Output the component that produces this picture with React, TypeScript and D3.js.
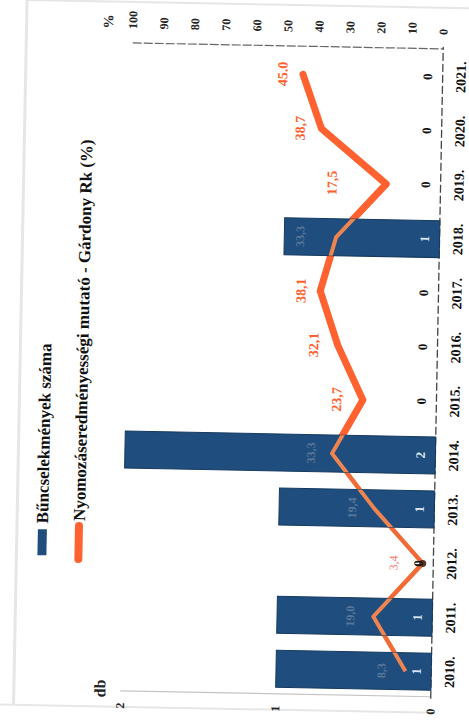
import React from 'react';
import * as d3 from 'd3';

const years = ['2010.', '2011.', '2012.', '2013.', '2014.', '2015.', '2016.', '2017.', '2018.', '2019.', '2020.', '2021.'];
const crimes = [1, 1, 0, 1, 2, 0, 0, 0, 1, 0, 0, 0];
const rate = [8.3, 19.0, 3.4, 19.4, 33.3, 23.7, 32.1, 38.1, 33.3, 17.5, 38.7, 45.0];
const rateLabels = ['8,3', '19,0', '3,4', '19,4', '33,3', '23,7', '32,1', '38,1', '33,3', '17,5', '38,7', '45.0'];
const pctTicks = [0, 10, 20, 30, 40, 50, 60, 70, 80, 90, 100];
const dbTicks = [0, 1, 2];
const legendBars = 'Bűncselekmények száma';
const legendLine = 'Nyomozáseredményességi mutató - Gárdony Rk (%)';

const W = 469;
const H = 724;
const FONT = '"Liberation Serif", "Times New Roman", serif';

// distance of each data label above its point (layout only)
const labelGap = [24, 23, 29, 22, 21, 26, 24, 19, 36, 54, 21, 20];

export default function App() {
  // chart drawn in its original (landscape) orientation: u = horizontal (0..724), v = vertical (0..469)
  const x = d3.scaleBand<string>().domain(years).range([28, 677]).paddingInner(0.316).paddingOuter(0.158);
  const yPct = d3.scaleLinear().domain([0, 100]).range([437, 126.5]);
  const yDb = d3.scaleLinear().domain([0, 2]).range([437, 126.5]);
  const cx = (i: number) => (x(years[i]) as number) + x.bandwidth() / 2;

  const pts: [number, number][] = rate.map((r, i) => [cx(i), yPct(r)]);
  const line = d3.line<[number, number]>().x(d => d[0]).y(d => d[1]);
  const firstPart = line(pts.slice(0, 5)) || '';
  const secondPart = line(pts.slice(4)) || '';
  const fullPath = line(pts) || '';

  const barIdx = crimes.map((c, i) => i).filter(i => crimes[i] > 0);
  const hiddenLabel = (i: number) => crimes[i] > 0;

  return (
    <svg width={W} height={H} style={{ position: 'absolute', left: 0, top: 0, display: 'block', background: '#fff' }} fontFamily={FONT}>
      <defs>
        <clipPath id="barsClip">
          {barIdx.map(i => (
            <rect key={i} x={x(years[i])} y={yDb(crimes[i])} width={x.bandwidth()} height={yDb(0) - yDb(crimes[i])} />
          ))}
        </clipPath>
      </defs>
      <g transform="rotate(1.1,290,370)">
        {/* faint scan frame */}
        <line x1={20} y1={5} x2={20} y2={710} stroke="#e6e6e6" strokeWidth={3} />
        <line x1={20} y1={5} x2={469} y2={5} stroke="#e6e6e6" strokeWidth={2} />
        <line x1={0} y1={710} x2={440} y2={710} stroke="#e6e6e6" strokeWidth={2} />
        <g transform={`translate(0,${H}) rotate(-90)`}>
          {/* left axis line (db) */}
          <line x1={30} y1={yDb(2)} x2={30} y2={yDb(0)} stroke="#c4c4c4" strokeWidth={1.2} />
          {/* right axis line (%) */}
          <line x1={678} y1={yPct(100)} x2={678} y2={yPct(0)} stroke="#666" strokeWidth={1.2} strokeDasharray="9 2" />
          {/* x axis line */}
          <line x1={28} y1={yPct(0)} x2={680} y2={yPct(0)} stroke="#444" strokeWidth={1.3} strokeDasharray="8 3" />

          {/* line */}
          <path d={firstPart} fill="none" stroke="#F26A35" strokeWidth={4.5} strokeLinejoin="round" strokeLinecap="round" />
          <path d={secondPart} fill="none" stroke="#FF6230" strokeWidth={7} strokeLinejoin="round" strokeLinecap="round" />

          {/* bars */}
          {barIdx.map(i => (
            <rect key={'b' + i} x={x(years[i])} y={yDb(crimes[i])} width={x.bandwidth()} height={yDb(0) - yDb(crimes[i])}
              fill="#1e4d7e" stroke="#163a60" strokeWidth={1} />
          ))}
          {/* labels faintly visible on bars */}
          {rate.map((r, i) =>
            hiddenLabel(i) ? (
              <text key={'hl' + i} x={cx(i)} y={yPct(r) - labelGap[i]} textAnchor="middle" dominantBaseline="central"
                fontSize={12} fontWeight="bold" fill="#5a7799">{rateLabels[i]}</text>
            ) : null
          )}
          {/* line seen through bars */}
          <path d={fullPath} fill="none" stroke="#EE8550" strokeWidth={4} strokeLinejoin="round" clipPath="url(#barsClip)" />
          <circle cx={pts[2][0]} cy={pts[2][1]} r={3.5} fill="#5a3522" />

          {/* bar value labels */}
          {crimes.map((c, i) => (
            <text key={'c' + i} x={cx(i)} y={422} textAnchor="middle" dominantBaseline="central"
              fontSize={13} fontWeight="bold" fill={c > 0 ? '#dde7f2' : '#111'}>{c}</text>
          ))}

          {/* visible line labels */}
          {rate.map((r, i) =>
            !hiddenLabel(i) ? (
              <text key={'l' + i} x={cx(i)} y={yPct(r) - labelGap[i]} textAnchor="middle" dominantBaseline="central"
                fontSize={i === 2 ? 12 : 14} fontWeight={i === 2 ? 'normal' : 'bold'} fill={i === 2 ? '#f07a6a' : '#FF5F2E'}>{rateLabels[i]}</text>
            ) : null
          )}

          {/* year labels */}
          {years.map((y, i) => (
            <text key={'y' + i} x={cx(i)} y={460} textAnchor="middle" fontSize={14} fontWeight="bold" fill="#111">{y}</text>
          ))}

          {/* right axis ticks (%) */}
          {pctTicks.map(t => (
            <text key={'p' + t} x={692} y={yPct(t)} textAnchor="start" dominantBaseline="central"
              fontSize={12} fontWeight="bold" fill="#222">{t}</text>
          ))}
          <text x={692} y={102} textAnchor="start" dominantBaseline="central" fontSize={14} fontWeight="bold" fill="#222">%</text>

          {/* left axis ticks (db) */}
          {dbTicks.map(t => (
            <text key={'d' + t} x={18} y={yDb(t)} textAnchor="end" dominantBaseline="central"
              fontSize={12} fontWeight="bold" fill="#222">{t}</text>
          ))}
          <text x={32} y={106} textAnchor="middle" dominantBaseline="central" fontSize={16} fontWeight="bold" fill="#222">db</text>

          {/* legend */}
          <rect x={164} y={41} width={26} height={9} fill="#1e4d7e" />
          <text x={196} y={51} fontSize={17} fontWeight="bold" fill="#111">{legendBars}</text>
          <line x1={161} y1={82} x2={194} y2={82} stroke="#FF6230" strokeWidth={8} strokeLinecap="round" />
          <text x={199} y={88} fontSize={17} fontWeight="bold" fill="#111">{legendLine}</text>
        </g>
      </g>
    </svg>
  );
}
